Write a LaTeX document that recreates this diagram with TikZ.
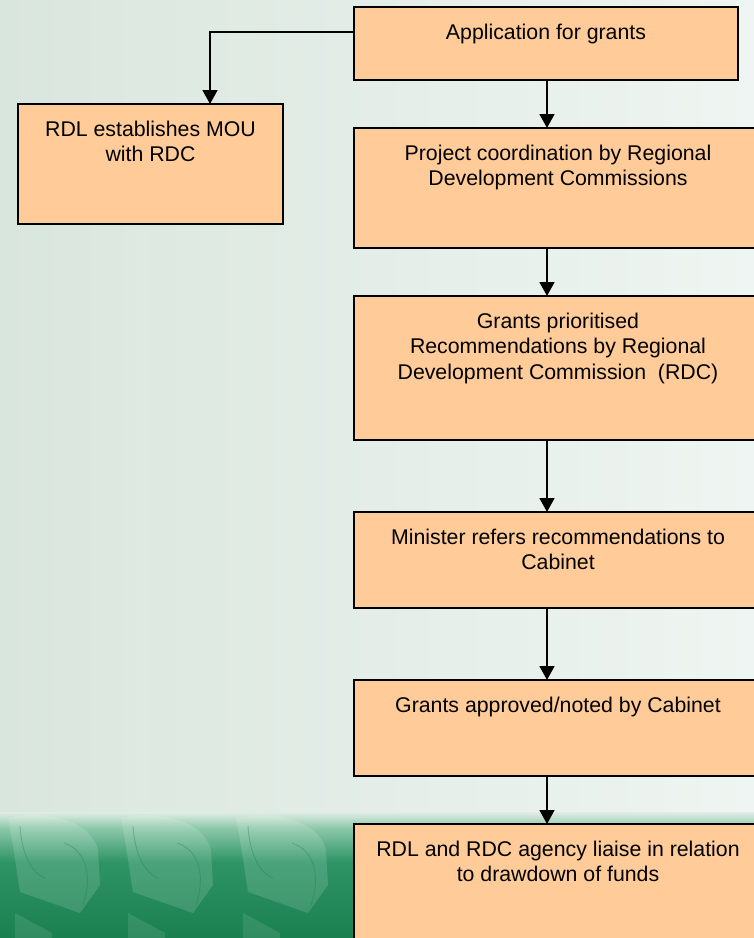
\documentclass[tikz,border=0pt]{standalone}
\usepackage{fontspec}
\setmainfont{Liberation Sans}
\usetikzlibrary{arrows.meta}
\definecolor{boxfill}{HTML}{FFCC99}
\definecolor{bgleft}{HTML}{D9E6DD}
\definecolor{bgright}{HTML}{EFF5F2}
\definecolor{gA}{HTML}{8CC8AA}
\definecolor{gB}{HTML}{2E9466}
\definecolor{gC}{HTML}{1A8050}
\newcommand\boxtext[3]{\parbox[t][#2pt][t]{#1pt}{\centering\rule{0pt}{32pt}#3}}
\tikzset{
  stepbox/.style={draw=black, line width=2pt, fill=boxfill, inner sep=0pt, outer sep=0pt,
    anchor=north west, font=\fontsize{21.3}{25.5}\selectfont},
  arr/.style={draw=black, line width=1.7pt, -{Triangle[width=15pt,length=14pt]}},
  leafline/.style={draw=gC, opacity=0.35, line width=0.9pt}
}
\begin{document}
\begin{tikzpicture}[x=1pt,y=-1pt]
\clip (0,0) rectangle (754,938);
% background
\shade[left color=bgleft, right color=bgright] (0,0) rectangle (754,938);
\fill[white, opacity=0.07] (135,230) rectangle (150,800);
\shade[top color=bgleft!60!bgright, bottom color=gA] (0,812) rectangle (754,828);
\shade[top color=gA, bottom color=gB] (0,828) rectangle (754,862);
\shade[top color=gB, bottom color=gC] (0,862) rectangle (754,938);
% leaf motifs
\foreach \dx in {0,113,228}{
  \fill[white, opacity=0.14] (\dx+8,818) .. controls (\dx+40,810) and (\dx+90,818) .. (\dx+98,850)
     -- (\dx+100,885) -- (\dx+80,913) -- (\dx+20,892) -- (\dx+12,840) -- cycle;
  \draw[leafline] (\dx+20,826) .. controls (\dx+22,858) and (\dx+34,874) .. (\dx+45,878);
  \draw[leafline] (\dx+64,843) .. controls (\dx+86,850) and (\dx+93,876) .. (\dx+83,905);
  \fill[white, opacity=0.10] (\dx+15,913) -- (\dx+52,933) -- (\dx+52,940) -- (\dx+15,940) -- cycle;
}
% boxes
\node[stepbox] (app) at (354,7) {\boxtext{384}{73}{Application for grants}};
\node[stepbox] (mou) at (18,104) {\boxtext{265}{120}{RDL establishes MOU\\with RDC}};
\node[stepbox] (proj) at (354,128) {\boxtext{408}{120}{Project coordination by Regional\\Development Commissions}};
\node[stepbox] (prio) at (354,296) {\boxtext{408}{144}{Grants prioritised\\Recommendations by Regional\\Development Commission\ \ (RDC)}};
\node[stepbox] (mini) at (354,512) {\boxtext{408}{96}{Minister refers recommendations to\\Cabinet}};
\node[stepbox] (appr) at (354,680) {\boxtext{408}{96}{Grants approved/noted by Cabinet}};
\node[stepbox] (liaise) at (354,824) {\boxtext{408}{130}{RDL and RDC agency liaise in relation\\to drawdown of funds}};
% connectors
\coordinate (bend) at (210,32);
\draw[arr] (app.west |- bend) -- (bend) -- (bend |- mou.north);
\coordinate (col) at (547,0);
\draw[arr] (col |- app.south) -- (col |- proj.north);
\draw[arr] (col |- proj.south) -- (col |- prio.north);
\draw[arr] (col |- prio.south) -- (col |- mini.north);
\draw[arr] (col |- mini.south) -- (col |- appr.north);
\draw[arr] (col |- appr.south) -- (col |- liaise.north);
\end{tikzpicture}
\end{document}
